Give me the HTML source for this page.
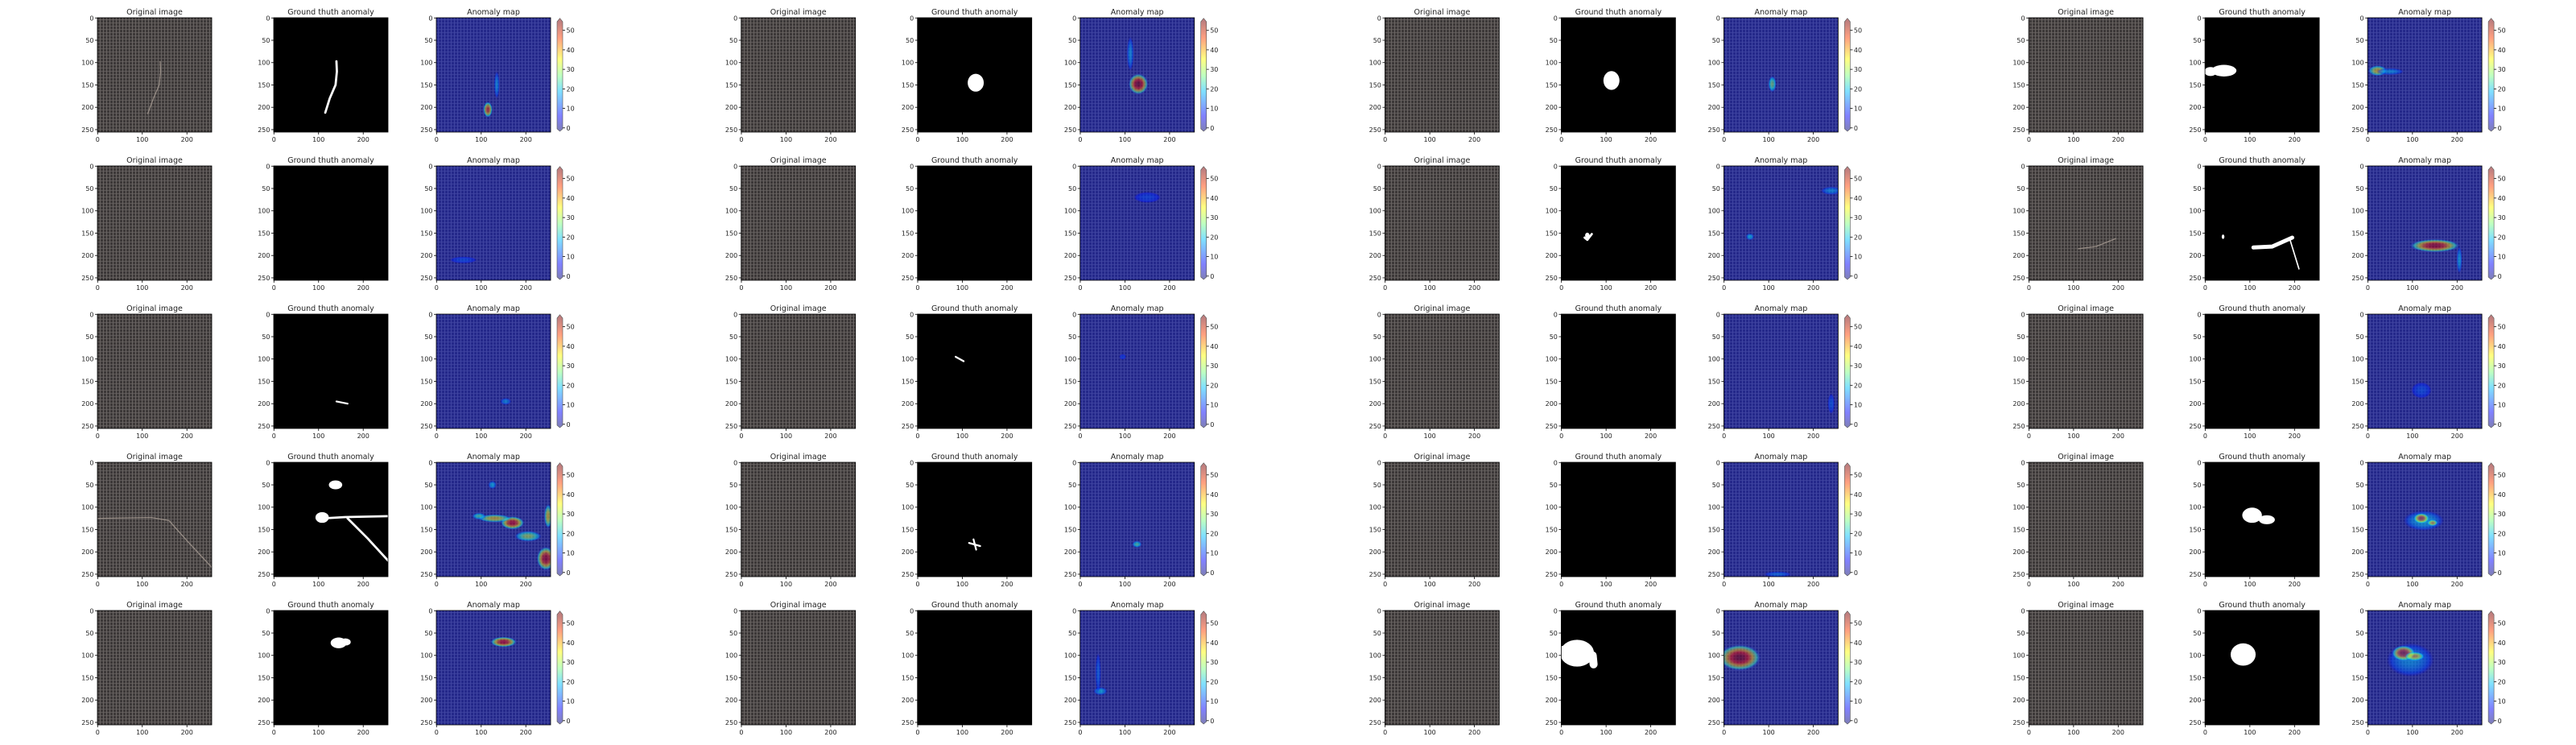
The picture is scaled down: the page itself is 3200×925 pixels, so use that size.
<!DOCTYPE html>
<html><head><meta charset="utf-8"><style>
html,body{margin:0;padding:0;background:#fff;}
svg text{font-family:"DejaVu Sans","Liberation Sans",sans-serif;fill:#222;}
</style></head><body>
<svg id="fig" width="3200" height="920" viewBox="0 0 3200 920" xmlns="http://www.w3.org/2000/svg">
<defs>
<pattern id="fabric" width="4" height="4" patternUnits="userSpaceOnUse">
<rect width="4" height="4" fill="#3c3838"/>
<rect x="0" y="0" width="4" height="1" fill="#5e5958"/>
<rect x="0" y="0" width="1" height="4" fill="#6a6563"/>
</pattern>
<pattern id="bluefab" width="4" height="4" patternUnits="userSpaceOnUse">
<rect width="4" height="4" fill="#24288a"/>
<rect x="0" y="0" width="4" height="1" fill="#3a3f9c"/>
<rect x="0" y="0" width="1" height="4" fill="#4045a2"/>
</pattern>
<linearGradient id="jetbar" x1="0" y1="1" x2="0" y2="0">
<stop offset="0" stop-color="#7f7fbf"/>
<stop offset="0.12" stop-color="#8080ff"/>
<stop offset="0.35" stop-color="#7fdfff"/>
<stop offset="0.5" stop-color="#bfffbf"/>
<stop offset="0.65" stop-color="#ffff80"/>
<stop offset="0.85" stop-color="#ff9f80"/>
<stop offset="1" stop-color="#bf7f7f"/>
</linearGradient>
</defs>
<g id="root"></g>
</svg>
<script>
// layout
const groupXs = [0, 799.7, 1599.4, 2399.1];
const rowTops = [22, 206, 390, 574, 758];
const xTicks = [0, 100, 200];
const yTicks = [0, 50, 100, 150, 200, 250];
const cbTicks = [0, 10, 20, 30, 40, 50];
const titles = ["Original image", "Ground thuth anomaly", "Anomaly map"];

// hotspots per panel [group][row]: [x, y, rx, ry, value]
const hotspots = [
 [ [[115,205,7,12,45],[135,150,4,20,12]],
   [[60,210,20,5,6]],
   [[155,195,8,5,12]],
   [[170,135,18,10,50],[130,125,25,6,35],[205,165,20,8,28],[245,215,14,18,52],[250,120,6,18,35],[125,50,6,6,15],[95,120,10,5,22]],
   [[150,70,20,8,50]] ],
 [ [[130,148,15,16,55],[112,80,5,25,12]],
   [[150,70,20,8,5]],
   [[95,95,5,4,5]],
   [[127,183,7,5,22]],
   [[45,180,10,6,15],[40,140,4,30,8]] ],
 [ [[108,148,6,12,25]],
   [[58,158,6,5,16],[240,55,15,6,12]],
   [[240,200,5,15,7]],
   [[120,250,20,4,9]],
   [[35,105,32,20,55]] ],
 [ [[22,118,14,8,35],[50,120,20,5,12]],
   [[150,178,38,10,52],[205,210,4,20,14]],
   [[120,170,15,12,6]],
   [[125,130,30,15,15],[120,125,12,8,50],[145,135,8,5,40]],
   [[95,110,35,25,12],[80,95,18,12,52],[105,102,15,7,40]] ]
];

// ground-truth shapes per panel: ellipses [x,y,rx,ry] and strokes [[x,y]...,width]
const gtEllipses = [
 [ [], [], [], [[138,50,15,10],[108,123,15,12]], [[145,72,18,12],[160,70,12,8]] ],
 [ [[130,145,18,20]], [], [], [], [] ],
 [ [[112,140,18,21]], [[58,155,5,6]], [], [], [[35,95,38,30]] ],
 [ [[42,118,28,13],[12,120,14,10]], [[40,158,3,5]], [], [[105,118,22,17],[138,128,18,10]], [[85,98,28,25]] ]
];
const gtStrokes = [
 [ [[[140,97],[141,120],[138,150],[125,180],[115,212]],5],
   [], [[[140,195],[165,200]],4],
   [[[110,125],[160,122],[256,120]],5],[[[165,125],[210,170],[256,220]],5] ],
 [ [], [], [[[85,95],[103,105]],4], [[[115,180],[140,187]],4],[[[125,172],[131,195]],4] ],
 [ [], [[[52,160],[58,165],[68,152]],5], [], [], [[[0,88],[70,100],[72,120]],18] ],
 [ [], [[[108,182],[150,180],[195,160]],9],[[[190,165],[210,230]],3], [], [] ]
];
const gtStrokeMap = {
 "0-0":[0],"0-2":[2],"0-3":[3,4],
 "1-2":[2],"1-3":[3,4],
 "2-1":[1],"2-4":[4],
 "3-1":[1,2]
};
// threads visible in original images
const threads = {
 "0-0":[[140,97],[141,120],[138,150],[125,180],[112,215]],
 "0-3":[[0,125],[120,123],[160,130],[200,175],[256,235]],
 "3-1":[[110,185],[150,180],[195,162]]
};

const NS = "http://www.w3.org/2000/svg";
const root = document.getElementById("root");
const PW = 142;
function el(tag, attrs, parent){
  const e = document.createElementNS(NS, tag);
  for (const k in attrs) e.setAttribute(k, attrs[k]);
  (parent||root).appendChild(e);
  return e;
}
function sx(x0, v){ return x0 + (v + 0.5) * PW / 256; }
function sy(y0, v){ return y0 + (v + 0.5) * PW / 256; }

function jetColor(t){
  t = Math.max(0, Math.min(1, t));
  const r = Math.max(0, Math.min(1, 1.5 - Math.abs(4*t - 3)));
  const g = Math.max(0, Math.min(1, 1.5 - Math.abs(4*t - 2)));
  const b = Math.max(0, Math.min(1, 1.5 - Math.abs(4*t - 1)));
  return "rgb(" + Math.round(r*255) + "," + Math.round(g*255) + "," + Math.round(b*255) + ")";
}
let gid = 0;
function drawAxes(x0, y0){
  el("rect",{x:x0,y:y0,width:PW,height:PW,fill:"none",stroke:"#000","stroke-width":0.8});
  yTicks.forEach(t=>{
    const y = sy(y0,t);
    el("line",{x1:x0-3,x2:x0,y1:y,y2:y,stroke:"#000","stroke-width":0.8});
    const tx = el("text",{x:x0-4.5,y:y+3,"font-size":8,"text-anchor":"end"});
    tx.textContent = t;
  });
  xTicks.forEach(t=>{
    const x = sx(x0,t);
    el("line",{x1:x,x2:x,y1:y0+PW,y2:y0+PW+3,stroke:"#000","stroke-width":0.8});
    const tx = el("text",{x:x,y:y0+PW+12,"font-size":8,"text-anchor":"middle"});
    tx.textContent = t;
  });
}

for (let g=0; g<4; g++){
  for (let r=0; r<5; r++){
    const gx = groupXs[g], y0 = rowTops[r], key = g + "-" + r;
    const xs = [gx+121, gx+340, gx+542];
    xs.forEach((x,i)=>{
      const t = el("text",{x:x+PW/2,y:y0-4,"font-size":9.5,"text-anchor":"middle"});
      t.textContent = titles[i];
      
      
    });
    const o = el("rect",{x:xs[0],y:y0,width:PW,height:PW,fill:"url(#fabric)"});
    
    
    if (threads[key]){
      const pts = threads[key].map(p=>sx(xs[0],p[0])+","+sy(y0,p[1])).join(" ");
      el("polyline",{points:pts,fill:"none",stroke:"#a89c94","stroke-width":1.3,"stroke-opacity":0.8});
    }
    drawAxes(xs[0], y0);
    const gt = el("rect",{x:xs[1],y:y0,width:PW,height:PW,fill:"#000"});
    
    
    const clip = el("clipPath",{id:"c"+key});
    el("rect",{x:xs[1],y:y0,width:PW,height:PW},clip);
    const gg = el("g",{"clip-path":"url(#c"+key+")"});
    gtEllipses[g][r].forEach(e=>{
      const s = el("ellipse",{cx:sx(xs[1],e[0]),cy:sy(y0,e[1]),rx:e[2]*PW/256,ry:e[3]*PW/256,fill:"#fff"},gg);
      
      
    });
    (gtStrokeMap[key]||[]).forEach(i=>{
      const st = gtStrokes[g][i];
      if (!st || !st.length) return;
      const pts = st[0].map(p=>sx(xs[1],p[0])+","+sy(y0,p[1])).join(" ");
      const s = el("polyline",{points:pts,fill:"none",stroke:"#fff","stroke-width":st[1]*PW/256,"stroke-linecap":"round","stroke-linejoin":"round"},gg);
      
      
    });
    drawAxes(xs[1], y0);
    const am = el("rect",{x:xs[2],y:y0,width:PW,height:PW,fill:"url(#bluefab)"});
    
    
    const clip2 = el("clipPath",{id:"m"+key});
    el("rect",{x:xs[2],y:y0,width:PW,height:PW},clip2);
    const mg = el("g",{"clip-path":"url(#m"+key+")"});
    hotspots[g][r].forEach(h=>{
      const id = "hg"+(gid++);
      const rg = el("radialGradient",{id:id});
      const t = h[4]/55;
      const steps = 5;
      for (let k=0;k<=steps;k++){
        const f = k/steps;
        const v = t*(1-f*f);
        el("stop",{offset:f,"stop-color":jetColor(0.12+v*0.88),"stop-opacity":k===steps?0:0.5},rg);
      }
      const s = el("ellipse",{cx:sx(xs[2],h[0]),cy:sy(y0,h[1]),rx:h[2]*PW/256*1.5,ry:h[3]*PW/256*1.5,fill:"url(#"+id+")"},mg);
      
      
    });
    drawAxes(xs[2], y0);
    const cx = gx+692, cw = 7;
    const vmin = -0.5, vmax = 54.4, bTop = y0+5, bBot = y0+138;
    const cy = v => bBot - (v - vmin)/(vmax - vmin)*(bBot - bTop);
    const cb = el("rect",{x:cx,y:bTop,width:cw,height:bBot-bTop,fill:"url(#jetbar)"});
    
    
    el("polygon",{points:cx+","+bTop+" "+(cx+cw)+","+bTop+" "+(cx+cw/2)+","+(y0+0.7),fill:"#bf7f7f"});
    el("polygon",{points:cx+","+bBot+" "+(cx+cw)+","+bBot+" "+(cx+cw/2)+","+(y0+141),fill:"#7f7fbf"});
    el("polygon",{points:cx+","+bTop+" "+(cx+cw/2)+","+(y0+0.7)+" "+(cx+cw)+","+bTop+" "+(cx+cw)+","+bBot+" "+(cx+cw/2)+","+(y0+141)+" "+cx+","+bBot,fill:"none",stroke:"#555","stroke-width":0.6});
    cbTicks.forEach(t=>{
      const y = cy(t);
      el("line",{x1:cx+cw,x2:cx+cw+3,y1:y,y2:y,stroke:"#000","stroke-width":0.8});
      const tx = el("text",{x:cx+cw+4.5,y:y+3,"font-size":8});
      tx.textContent = t;
    });
  }
}
</script>
</body></html>
